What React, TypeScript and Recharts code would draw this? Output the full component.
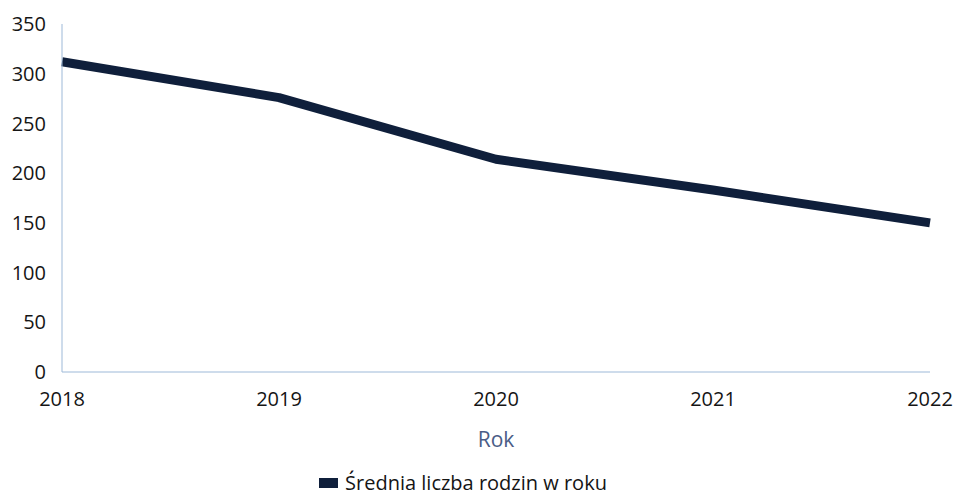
import { LineChart, Line, XAxis, YAxis, Legend } from "recharts";

const years = ["2018", "2019", "2020", "2021", "2022"];
const avgFamilies = [312, 276, 214, 183, 150];
const yTicks = [0, 50, 100, 150, 200, 250, 300, 350];

const data = years.map((year, i) => ({ year, value: avgFamilies[i] }));

const FONT = "'Open Sans', 'Noto Sans', sans-serif";
const NAVY = "#0f1f3b";

const LegendContent = () => (
  <div
    style={{
      display: "flex",
      justifyContent: "center",
      alignItems: "center",
      fontFamily: FONT,
      fontSize: 20,
      lineHeight: "24px",
      color: "#151515",
      marginLeft: -4,
    }}
  >
    <svg width={19} height={10} style={{ marginRight: 7 }}>
      <rect x={0} y={0} width={19} height={10} fill={NAVY} />
    </svg>
    <span>Średnia liczba rodzin w roku</span>
  </div>
);

const App = () => {
  return (
    <div style={{ position: "absolute", left: 0, top: 0, background: "#fff" }}>
      <LineChart
        width={955}
        height={495}
        data={data}
        margin={{ top: 24, right: 25, bottom: 0, left: 0 }}
      >
        <XAxis
          dataKey="year"
          height={99}
          tickLine={false}
          axisLine={{ stroke: "#9db9d8", strokeWidth: 1 }}
          tick={{ fill: "#151515", fontSize: 20, fontFamily: FONT }}
          tickMargin={14}
          interval={0}
          label={{
            value: "Rok",
            position: "insideBottom",
            offset: 24,
            fill: "#4a5c86",
            fontSize: 21,
            fontFamily: FONT,
          }}
        />
        <YAxis
          width={62}
          domain={[0, 350]}
          ticks={yTicks}
          tickLine={false}
          axisLine={{ stroke: "#9db9d8", strokeWidth: 1 }}
          tick={{ fill: "#151515", fontSize: 20, fontFamily: FONT }}
          tickMargin={10}
        />
        <Legend verticalAlign="bottom" height={24} content={<LegendContent />} />
        <Line
          dataKey="value"
          type="linear"
          stroke={NAVY}
          strokeWidth={9}
          strokeLinejoin="round"
          dot={false}
          activeDot={false}
          isAnimationActive={false}
        />
      </LineChart>
    </div>
  );
};

export default App;
